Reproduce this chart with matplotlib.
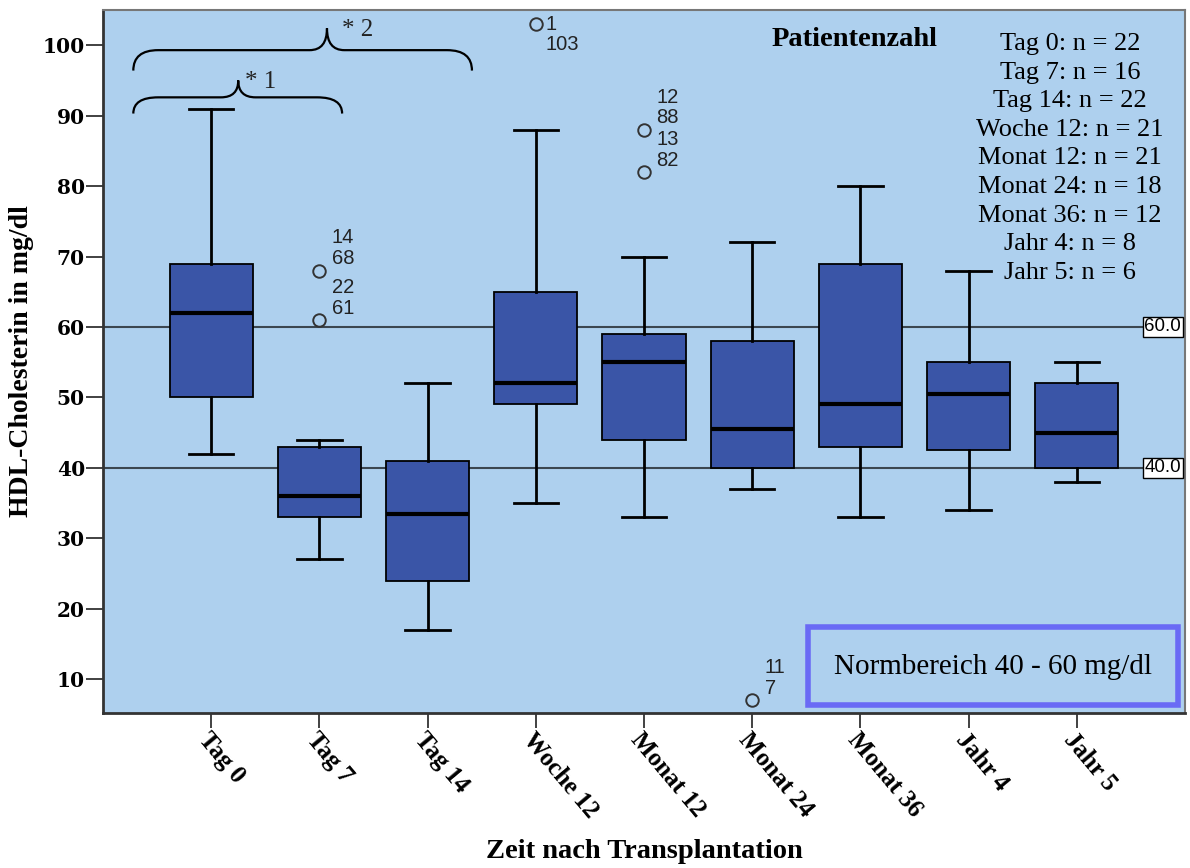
import matplotlib
matplotlib.use("Agg")
import matplotlib.pyplot as plt
from matplotlib.path import Path
from matplotlib.patches import PathPatch, Rectangle

# ---------------- data ----------------
categories = ["Tag 0", "Tag 7", "Tag 14", "Woche 12", "Monat 12",
              "Monat 24", "Monat 36", "Jahr 4", "Jahr 5"]
whisker_low = [42, 27, 17, 35, 33, 37, 33, 34, 38]
q1_values = [50, 33, 24, 49, 44, 40, 43, 42.5, 40]
medians = [62, 36, 33.5, 52, 55, 45.5, 49, 50.5, 45]
q3_values = [69, 43, 41, 65, 59, 58, 69, 55, 52]
whisker_high = [91, 44, 52, 88, 70, 72, 80, 68, 55]
outliers = [[], [68, 61], [], [103], [88, 82], [7], [], [], []]
# case-number labels for each outlier (group index, value, label lines)
outlier_labels = [
    (1, 68, ["14", "68"]),
    (1, 61, ["22", "61"]),
    (4, 88, ["12", "88"]),
    (4, 82, ["13", "82"]),
    (5, 7, ["11", "7"]),
]
top_outlier_label = (3, 103, ["1", "103"])
patient_counts = [22, 16, 22, 21, 21, 18, 12, 8, 6]
count_names = ["Tag 0", "Tag 7", "Tag 14", "Woche 12", "Monat 12",
               "Monat 24", "Monat 36", "Jahr 4", "Jahr 5"]
reference_values = [60.0, 40.0]
y_ticks = [10, 20, 30, 40, 50, 60, 70, 80, 90, 100]
# significance braces: (left x, right x, tip x, end y, line y, tip y, label x, label)
braces = [
    (0.28, 2.21, 1.25, 90.3, 92.6, 95.0, 1.31, "* 1"),
    (0.28, 3.41, 2.07, 96.4, 99.3, 102.4, 2.21, "* 2"),
]

# ---------------- style ----------------
BG = "#AED0EE"
BOX = "#3A55A7"
SERIF = ["Liberation Serif", "DejaVu Serif"]
SANS = ["Liberation Sans", "DejaVu Sans"]

W, H = 1190, 868
AX_L, AX_R, AX_T, AX_B = 103, 1185, 10, 713
fig = plt.figure(figsize=(W / 100, H / 100), dpi=100)
ax = fig.add_axes([AX_L / W, 1 - AX_B / H, (AX_R - AX_L) / W, (AX_B - AX_T) / H])
ax.set_facecolor(BG)


def ax_frac(px, py):
    return (px - AX_L) / (AX_R - AX_L), (AX_B - py) / (AX_B - AX_T)


positions = list(range(1, len(categories) + 1))
stats = []
for i in range(len(categories)):
    stats.append(dict(med=medians[i], q1=q1_values[i], q3=q3_values[i],
                      whislo=whisker_low[i], whishi=whisker_high[i],
                      fliers=outliers[i], label=categories[i]))

ax.bxp(stats, positions=positions, widths=0.77, patch_artist=True,
       showfliers=True,
       boxprops=dict(facecolor=BOX, edgecolor="black", linewidth=1.3),
       medianprops=dict(color="black", linewidth=3),
       whiskerprops=dict(color="black", linewidth=2),
       capprops=dict(color="black", linewidth=2),
       capwidths=0.41,
       flierprops=dict(marker="o", markerfacecolor="none", markeredgecolor="#333333",
                       markersize=9, markeredgewidth=1.4))

ax.set_xlim(0, 10)
ax.set_ylim(5.2, 105)

# reference lines
for rv in reference_values:
    ax.axhline(rv, color="#3b4650", linewidth=1.5, zorder=1)
    ax.text(ax_frac(1181, 0)[0], rv, f"{rv:.1f}", ha="right", va="center",
            fontsize=13.5, family=SANS, transform=ax.get_yaxis_transform(),
            bbox=dict(boxstyle="square,pad=0.08", facecolor="white",
                      edgecolor="black", linewidth=1))

# outlier case labels
OFS = 14.5
for gi, val, labs in outlier_labels:
    ax.annotate(labs[0], (positions[gi], val), xytext=(9, 23.5),
                textcoords="offset points", fontsize=OFS, family=SANS,
                ha="left", va="center", color="#222222")
    ax.annotate(labs[1], (positions[gi], val), xytext=(9, 8.5),
                textcoords="offset points", fontsize=OFS, family=SANS,
                ha="left", va="center", color="#222222")
gi, val, labs = top_outlier_label
ax.annotate(labs[0], (positions[gi], val), xytext=(7, 0),
            textcoords="offset points", fontsize=OFS, family=SANS,
            ha="left", va="center", color="#222222")
ax.annotate(labs[1], (positions[gi], val), xytext=(7, -14.5),
            textcoords="offset points", fontsize=OFS, family=SANS,
            ha="left", va="center", color="#222222")


# braces
def brace_path(x0, x1, xt, ye, yl, yt, r_end=0.23, r_tip=0.16):
    verts = [(x0, ye), (x0, yl), (x0 + r_end, yl),
             (xt - r_tip, yl), (xt, yl), (xt, yt),
             (xt, yl), (xt + r_tip, yl),
             (x1 - r_end, yl), (x1, yl), (x1, ye)]
    codes = [Path.MOVETO, Path.CURVE3, Path.CURVE3,
             Path.LINETO, Path.CURVE3, Path.CURVE3,
             Path.CURVE3, Path.CURVE3,
             Path.LINETO, Path.CURVE3, Path.CURVE3]
    return Path(verts, codes)


for x0, x1, xt, ye, yl, yt, lx, lab in braces:
    ax.add_patch(PathPatch(brace_path(x0, x1, xt, ye, yl, yt), facecolor="none",
                           edgecolor="black", linewidth=1.6, zorder=5))
    ax.text(lx, yt - 0.2, lab, fontsize=18, family=SERIF,
            ha="left", va="center", color="#222222")

# patient count legend
px, py = ax_frac(855, 40)
ax.text(px, py, "Patientenzahl", transform=ax.transAxes, fontsize=20.5,
        fontweight="bold", family=SERIF, ha="center", va="center")
for i, (nm, c) in enumerate(zip(count_names, patient_counts)):
    lx, ly = ax_frac(1070, 44 + i * 28.6)
    ax.text(lx, ly, f"{nm}: n = {c}", transform=ax.transAxes, fontsize=19,
            family=SERIF, ha="center", va="center")

# Normbereich box
bx0, by0 = ax_frac(808, 705)
bx1, by1 = ax_frac(1178, 627)
nb = Rectangle((bx0, by0), bx1 - bx0, by1 - by0, transform=ax.transAxes,
               facecolor="none", edgecolor="#6a6af5", linewidth=4, zorder=6)
ax.add_patch(nb)
tx, ty = ax_frac(993, 667)
ax.text(tx, ty, "Normbereich 40 - 60 mg/dl", transform=ax.transAxes,
        fontsize=21, family=SERIF, ha="center", va="center")

# axes
ax.set_yticks(y_ticks)
ax.set_yticklabels([str(t) for t in y_ticks], fontsize=14.5, fontweight="bold",
                   family=["DejaVu Serif"])
ax.set_xticks(positions)
ax.set_xticklabels(categories, fontsize=18, fontweight="bold", family=SERIF,
                   rotation=-50, ha="left", va="top", rotation_mode="anchor")
ax.tick_params(axis="y", length=12, width=1.3, color="#333333", pad=1)
ax.tick_params(axis="x", length=11, width=1.3, color="#333333", pad=0)
ax.set_ylabel("HDL-Cholesterin in mg/dl", fontsize=20, fontweight="bold",
              family=SERIF, va="center")
ax.yaxis.set_label_coords(ax_frac(22, 0)[0], 0.5)
ax.set_xlabel("Zeit nach Transplantation", fontsize=20.5, fontweight="bold",
              family=SERIF, va="center")
ax.xaxis.set_label_coords(0.5, ax_frac(0, 852)[1])
for s in ["left", "bottom"]:
    ax.spines[s].set_color("#333333")
    ax.spines[s].set_linewidth(2)
for s in ["top", "right"]:
    ax.spines[s].set_color("#777777")
    ax.spines[s].set_linewidth(1.5)

fig.savefig("out.png", dpi=100)
